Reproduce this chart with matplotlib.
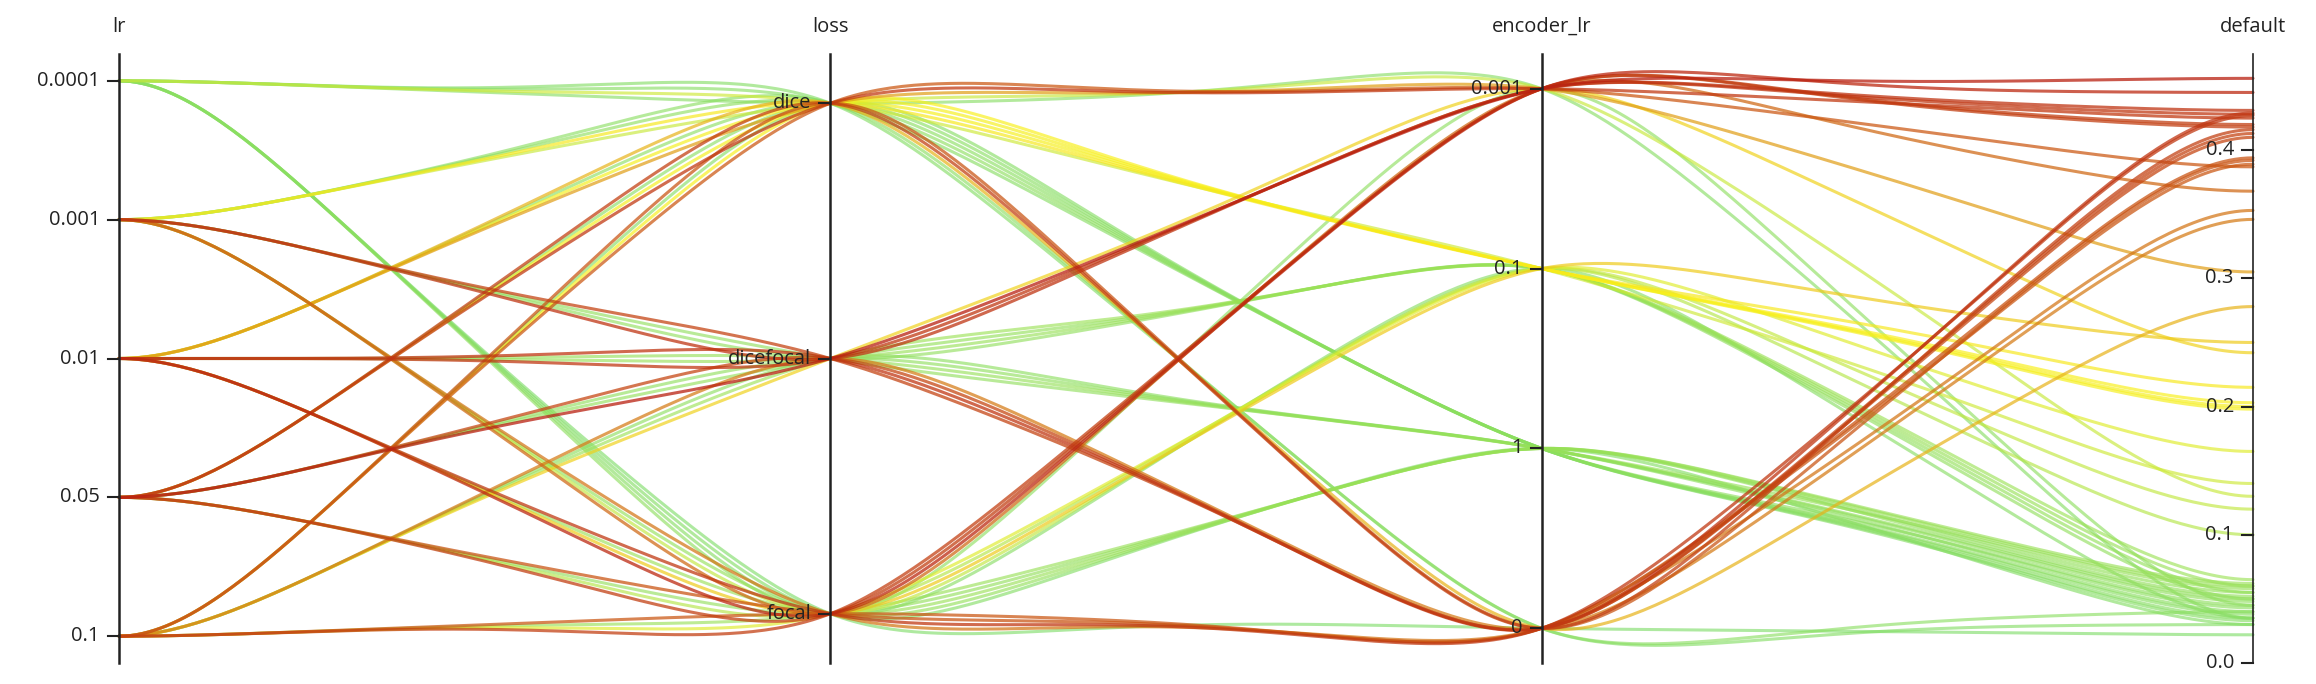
import numpy as np
import matplotlib
matplotlib.use("Agg")
import matplotlib.pyplot as plt
from matplotlib.colors import LinearSegmentedColormap

plt.rcParams['font.family'] = ['Open Sans', 'DejaVu Sans']

# category order on each axis (top to bottom)
lr_cats = ['0.0001', '0.001', '0.01', '0.05', '0.1']
loss_cats = ['dice', 'dicefocal', 'focal']
enc_cats = ['0.001', '0.1', '1', '0']
default_ticks = [0.0, 0.1, 0.2, 0.3, 0.4]
default_max = 0.475

# runs, grouped by encoder_lr
run_lr = ['0.0001', '0.0001', '0.001', '0.001', '0.001', '0.01', '0.01', '0.01',
          '0.05', '0.05', '0.05', '0.1', '0.1', '0.1'] * 4
run_loss = ['dice', 'focal', 'dice', 'dicefocal', 'focal', 'dice', 'dicefocal', 'focal',
            'dice', 'dicefocal', 'focal', 'dice', 'dicefocal', 'focal'] * 4
run_enc = ['0.001'] * 14 + ['0.1'] * 14 + ['1'] * 14 + ['0'] * 14
run_default = [
    # encoder_lr 0.001
    0.035, 0.045, 0.13, 0.431, 0.368, 0.305, 0.428, 0.445,
    0.425, 0.456, 0.42, 0.387, 0.242, 0.418,
    # encoder_lr 0.1
    0.14, 0.035, 0.215, 0.05, 0.12, 0.2, 0.06, 0.25,
    0.198, 0.055, 0.10, 0.203, 0.065, 0.165,
    # encoder_lr 1
    0.035, 0.03, 0.045, 0.05, 0.055, 0.04, 0.058, 0.062,
    0.038, 0.048, 0.052, 0.033, 0.043, 0.06,
    # encoder_lr 0
    0.03, 0.022, 0.04, 0.413, 0.353, 0.278, 0.429, 0.427,
    0.416, 0.41, 0.394, 0.392, 0.346, 0.389,
]

axis_names = ['lr', 'loss', 'encoder_lr', 'default']

PAD = 0.193
BEND = 5   # how close to the axes the lines bend


def cat_pos(cats, v):
    n = len(cats)
    step = 1.0 / (n - 1 + 2 * PAD)
    i = cats.index(v)
    return 1.0 - PAD * step - i * step


def smooth_path(ys, n=120):
    # straight-ish segments that bend near each axis, flat at the outer axes
    ys = np.asarray(ys, dtype=float)
    k = len(ys)
    m = np.zeros(k)
    for i in range(1, k - 1):
        m[i] = (ys[i + 1] - ys[i - 1]) / 2.0
    u = np.linspace(0, 1, n)
    g0 = u * (1 - u) ** BEND
    g1 = u ** BEND * (u - 1)
    xs_all, ys_all = [], []
    for i in range(k - 1):
        s = ys[i + 1] - ys[i]
        y = ys[i] + s * u + (m[i] - s) * g0 + (m[i + 1] - s) * g1
        xs_all.append(i + u)
        ys_all.append(y)
    return np.concatenate(xs_all), np.concatenate(ys_all)


cmap = LinearSegmentedColormap.from_list(
    'gyr', [(0.0, '#7ddc66'), (0.42, '#faf01a'), (1.0, '#b92010')])
vmin, vmax = min(run_default), max(run_default)

W, H = 2316, 684
fig = plt.figure(figsize=(W / 100, H / 100), dpi=100)
x_left, x_right = 119, 2253
y_top, y_bot = 54, 663
ax = fig.add_axes([x_left / W, (H - y_bot) / H, (x_right - x_left) / W, (y_bot - y_top) / H])
ax.set_xlim(0, 3)
ax.set_ylim(0, 1)
ax.axis('off')

px = (x_right - x_left) / 3.0   # pixels per axis step
py = (y_bot - y_top)            # pixels per unit y

order = np.argsort(run_default)
for j in order:
    ys = [cat_pos(lr_cats, run_lr[j]),
          cat_pos(loss_cats, run_loss[j]),
          cat_pos(enc_cats, run_enc[j]),
          run_default[j] / default_max]
    xx, yy = smooth_path(ys)
    frac = (run_default[j] - vmin) / (vmax - vmin)
    c = cmap(frac)
    ax.plot(xx, yy, color=c, lw=2.2, alpha=0.62 + 0.13 * frac,
            solid_capstyle='round', clip_on=False, zorder=2)

tick_len = 11 / px
lab_off = 19 / px
txt_color = '#222222'


def draw_axis(i, positions, labels, lw):
    ax.plot([i, i], [0, 1], color='#222222', lw=lw, zorder=5, clip_on=False)
    for p, lab in zip(positions, labels):
        ax.plot([i - tick_len, i], [p, p], color='#222222', lw=1.5, zorder=5,
                clip_on=False)
        ax.text(i - lab_off, p, lab, ha='right', va='center', fontsize=14.5,
                color=txt_color, zorder=6)
    ax.text(i, 1 + 17 / py, axis_names[i], ha='center', va='bottom', fontsize=14.5,
            color=txt_color)


draw_axis(0, [cat_pos(lr_cats, c) for c in lr_cats], lr_cats, 1.8)
draw_axis(1, [cat_pos(loss_cats, c) for c in loss_cats], loss_cats, 1.8)
draw_axis(2, [cat_pos(enc_cats, c) for c in enc_cats], enc_cats, 1.8)
draw_axis(3, [v / default_max for v in default_ticks],
          ['%.1f' % v for v in default_ticks], 1.2)

fig.savefig('out.png', dpi=100, facecolor='white')
